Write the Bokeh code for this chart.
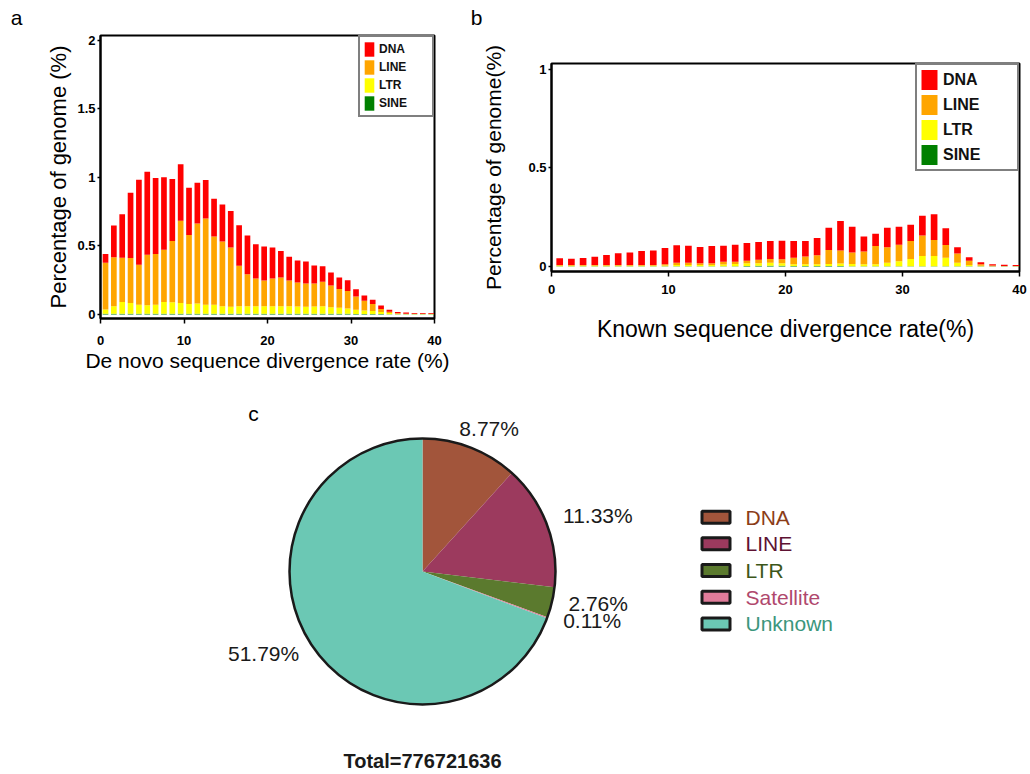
import math
from bokeh.plotting import figure
from bokeh.layouts import row, column
from bokeh.models import (ColumnDataSource, Range1d, FixedTicker, Legend,
                          LegendItem, Label)
from bokeh.embed import file_html
from bokeh.resources import INLINE
from bokeh.core.properties import value

# ---------------- data ----------------
bins = list(range(1, 41))
repeat_classes = ["DNA", "LINE", "LTR", "SINE"]
bar_colors = ["#FF0000", "#FFA500", "#FFFF00", "#008000"]
panel_letters = ["a", "b"]

# panel a: de novo divergence (percentage of genome)
a_dna = [0.064, 0.231, 0.317, 0.476, 0.621, 0.604, 0.555, 0.529, 0.452, 0.412,
         0.345, 0.296, 0.281, 0.274, 0.271, 0.267, 0.295, 0.283, 0.250, 0.247,
         0.226, 0.193, 0.173, 0.160, 0.160, 0.131, 0.114, 0.095, 0.083, 0.079,
         0.052, 0.038, 0.031, 0.024, 0.014, 0.009, 0.008, 0.007, 0.006, 0.006]
a_line = [0.340, 0.357, 0.324, 0.329, 0.291, 0.369, 0.369, 0.381, 0.448, 0.600,
          0.503, 0.585, 0.629, 0.498, 0.471, 0.433, 0.295, 0.233, 0.202, 0.188,
          0.202, 0.209, 0.188, 0.176, 0.171, 0.169, 0.178, 0.158, 0.138, 0.128,
          0.098, 0.071, 0.052, 0.023, 0.009, 0.004, 0.003, 0.002, 0.002, 0.002]
a_ltr = [0.032, 0.056, 0.086, 0.079, 0.067, 0.063, 0.067, 0.086, 0.084, 0.079,
         0.072, 0.075, 0.067, 0.067, 0.056, 0.051, 0.056, 0.056, 0.056, 0.056,
         0.056, 0.056, 0.056, 0.053, 0.051, 0.053, 0.056, 0.048, 0.044, 0.039,
         0.030, 0.026, 0.022, 0.015, 0.009, 0.004, 0.001, 0.001, 0.001, 0.001]
a_sine = [0.004] * 30 + [0.003, 0.003, 0.002, 0.002] + [0.001] * 6

# panel b: known divergence (percentage of genome)
b_dna = [0.034, 0.032, 0.036, 0.042, 0.051, 0.059, 0.064, 0.071, 0.074, 0.082,
         0.088, 0.086, 0.082, 0.087, 0.082, 0.086, 0.090, 0.090, 0.091, 0.094,
         0.085, 0.079, 0.087, 0.113, 0.149, 0.130, 0.077, 0.063, 0.099, 0.091,
         0.082, 0.101, 0.131, 0.085, 0.032, 0.017, 0.010, 0.006, 0.006, 0.005]
b_line = [0.004, 0.004, 0.004, 0.004, 0.004, 0.004, 0.004, 0.004, 0.004, 0.007,
          0.012, 0.012, 0.009, 0.009, 0.014, 0.012, 0.013, 0.018, 0.019, 0.020,
          0.033, 0.039, 0.046, 0.071, 0.067, 0.059, 0.064, 0.092, 0.079, 0.084,
          0.091, 0.103, 0.081, 0.064, 0.046, 0.022, 0.008, 0.004, 0.001, 0.001]
b_ltr = [0.003, 0.003, 0.003, 0.003, 0.003, 0.003, 0.003, 0.003, 0.003, 0.004,
         0.006, 0.006, 0.006, 0.006, 0.008, 0.011, 0.014, 0.013, 0.016, 0.013,
         0.009, 0.009, 0.009, 0.010, 0.012, 0.011, 0.010, 0.010, 0.017, 0.025,
         0.037, 0.052, 0.052, 0.043, 0.019, 0.007, 0.003, 0.001, 0.001, 0.001]
b_sine = [0.001] * 10 + [0.002] * 6 + [0.003, 0.004, 0.004, 0.004] + \
         [0.003] * 5 + [0.002] * 9 + [0.001] * 6

x_ticks = [0, 10, 20, 30, 40]
a_y_ticks = [0, 0.5, 1, 1.5, 2]
b_y_ticks = [0, 0.5, 1]
tick_text = {0: "0", 0.5: "0.5", 1: "1", 1.5: "1.5", 2: "2",
             10: "10", 20: "20", 30: "30", 40: "40"}

# panel c: repeat composition (percentage of genome)
pie_classes = ["DNA", "LINE", "LTR", "Satellite", "Unknown"]
pie_pct = [8.77, 11.33, 2.76, 0.11, 51.79]
pie_colors = ["#A2553B", "#9C3A5E", "#5B7A2E", "#E07C9A", "#6BC8B4"]
pie_text_colors = ["#8B3D18", "#5E1233", "#3C5619", "#B0486D", "#3B967C"]
total_bp = 776721636

SANS = "Liberation Sans"
PAGE_W = 1028
HDR_H = 32


def blank_fig(width, height):
    f = figure(width=width, height=height, output_backend="svg",
               toolbar_location=None, x_range=Range1d(0, width),
               y_range=Range1d(0, height), min_border=0, min_border_left=0,
               min_border_right=0, min_border_top=0, min_border_bottom=0)
    f.axis.visible = False
    f.xgrid.visible = False
    f.ygrid.visible = False
    f.outline_line_color = None
    return f


# header strip carrying the panel letters a and b
hdr = blank_fig(PAGE_W, HDR_H)
hdr.text(x=[16, 476], y=[HDR_H - 17] * 2, text=panel_letters,
         text_align="center", text_baseline="middle", text_font=value(SANS),
         text_font_size="21px", text_color="black")


def bar_panel(dna, line, ltr, sine, offset, bar_w, width, height, borders,
              y_end, y_start, y_ticks, xlabel, ylabel, xl_size, yl_size,
              x_std, xl_std, yl_std, legend_cfg):
    left, right, top, bottom = borders
    src = ColumnDataSource(dict(xc=[b - offset for b in bins], DNA=dna,
                                LINE=line, LTR=ltr, SINE=sine))
    p = figure(width=width, height=height, output_backend="svg",
               toolbar_location=None, x_range=Range1d(0, 40),
               y_range=Range1d(y_start, y_end),
               min_border_left=left, min_border_right=right,
               min_border_top=top, min_border_bottom=bottom)
    stack = ["SINE", "LTR", "LINE", "DNA"]
    rs = p.vbar_stack(stack, x="xc", width=bar_w, source=src,
                      fill_color=[bar_colors[3], bar_colors[2], bar_colors[1],
                                  bar_colors[0]], line_color=None)
    rmap = dict(zip(stack, rs))
    p.xgrid.visible = False
    p.ygrid.visible = False
    p.outline_line_color = "black"
    p.outline_line_width = 2
    p.background_fill_color = "white"
    p.border_fill_color = "white"
    for ax, ticks in ((p.xaxis[0], x_ticks), (p.yaxis[0], y_ticks)):
        ax.ticker = FixedTicker(ticks=ticks)
        ax.major_label_overrides = {t: tick_text[t] for t in ticks}
        ax.minor_tick_line_color = None
        ax.major_tick_in = 0
        ax.axis_line_width = 2
        ax.major_tick_line_width = 1.5
        ax.major_label_text_font = SANS
        ax.major_label_text_font_style = "bold"
        ax.major_label_text_font_size = "13px"
        ax.major_label_text_color = "black"
        ax.axis_label_text_font = SANS
        ax.axis_label_text_font_style = "normal"
        ax.axis_label_text_color = "black"
    p.xaxis.major_tick_out = 5
    p.yaxis.major_tick_out = 3
    p.xaxis.major_label_standoff = x_std
    p.yaxis.major_label_standoff = 2
    p.xaxis.axis_label = xlabel
    p.yaxis.axis_label = ylabel
    p.xaxis.axis_label_text_font_size = xl_size
    p.yaxis.axis_label_text_font_size = yl_size
    p.xaxis.axis_label_standoff = xl_std
    p.yaxis.axis_label_standoff = yl_std

    gw, gh, pad, lw, fs = legend_cfg
    items = [LegendItem(label=c, renderers=[rmap[c]]) for c in repeat_classes]
    leg = Legend(items=items, location="top_right", margin=0, padding=pad,
                 spacing=0, glyph_width=gw, glyph_height=gh, label_width=lw,
                 label_height=gh, label_standoff=4,
                 label_text_font=SANS, label_text_font_style="bold",
                 label_text_font_size=fs, label_text_color="#111111",
                 border_line_color="black", border_line_width=2,
                 background_fill_color="white", background_fill_alpha=1)
    p.add_layout(leg)
    return p


ROW_H = 375 - HDR_H
pa = bar_panel(a_dna, a_line, a_ltr, a_sine, 0.4, 0.68, 470, ROW_H,
               (100, 36, 35 - HDR_H, 57), 2.035, -0.03, a_y_ticks,
               "De novo sequence divergence rate (%)",
               "Percentage of genome (%)", "21px", "22px", 12, 1, 3,
               (12, 18, 3, 50, "12px"))

pb = bar_panel(b_dna, b_line, b_ltr, b_sine, 0.3, 0.57, PAGE_W - 470, ROW_H,
               (81, 9, 63 - HDR_H, 104), 1.03, -0.025, b_y_ticks,
               "Known sequence divergence rate(%)",
               "Percentage of genome(%)", "23px", "21px", 8, 19, 20,
               (20, 25, 2, 72, "16px"))

# ---------------- pie panel ----------------
H = 397
TOP = 375  # page y of this canvas' top edge
pc = blank_fig(PAGE_W, H)


def py(page_y):
    return TOP + H - page_y


cx, cy, rad = 422, py(571), 133
tot = sum(pie_pct)
starts, ends, mids = [], [], []
acc = 0.0
for v in pie_pct:
    a0 = math.pi / 2 - 2 * math.pi * acc / tot
    acc += v
    a1 = math.pi / 2 - 2 * math.pi * acc / tot
    starts.append(a0)
    ends.append(a1)
    mids.append((a0 + a1) / 2)

wsrc = ColumnDataSource(dict(start=starts, end=ends, color=pie_colors))
pc.wedge(x=cx, y=cy, radius=rad, radius_units="screen", start_angle="start",
         end_angle="end", direction="clock", fill_color="color",
         line_color=None, source=wsrc)
pc.circle(x=[cx], y=[cy], radius=rad, radius_units="screen", fill_color=None,
          line_color="#1A1A1A", line_width=2.5)

lab_r = 150
for v, m in zip(pie_pct, mids):
    c = math.cos(m)
    align = "left" if c > 0.4 else ("right" if c < -0.4 else "center")
    dx = 35 * c if align == "center" else 0
    pc.text(x=[cx + lab_r * c + dx], y=[cy + lab_r * math.sin(m) + 3],
            text=[f"{v:.2f}%"], text_align=align, text_baseline="middle",
            text_font=value(SANS), text_font_size="21px",
            text_color="#1A1A1A")

# legend
leg_x, leg_y0, leg_dy = 715.5, py(516.7), 26.67
ly = [leg_y0 - i * leg_dy for i in range(len(pie_classes))]
lsrc = ColumnDataSource(dict(x=[leg_x] * len(pie_classes), y=ly,
                             tx=[leg_x + 29.5] * len(pie_classes),
                             name=pie_classes, color=pie_colors,
                             tcolor=pie_text_colors))
pc.rect(x="x", y="y", width=28, height=12, width_units="screen",
        height_units="screen", fill_color="color", line_color="#1A1A1A",
        line_width=3, source=lsrc)
pc.text(x="tx", y="y", text="name", text_color="tcolor",
        text_baseline="middle", text_align="left", text_font=value(SANS),
        text_font_size="21px", source=lsrc)

pc.add_layout(Label(x=253, y=py(413), text="c", text_font=SANS,
                    text_font_size="21px", text_align="center",
                    text_baseline="middle", text_color="black"))
pc.add_layout(Label(x=cx, y=py(760), text=f"Total={total_bp}", text_font=SANS,
                    text_font_style="bold", text_font_size="20px",
                    text_align="center", text_baseline="middle",
                    text_color="#1A1A1A"))

layout = column(column(hdr), row(column(pa), column(pb)), column(pc))
open("out.html", "w").write(file_html(layout, INLINE))
